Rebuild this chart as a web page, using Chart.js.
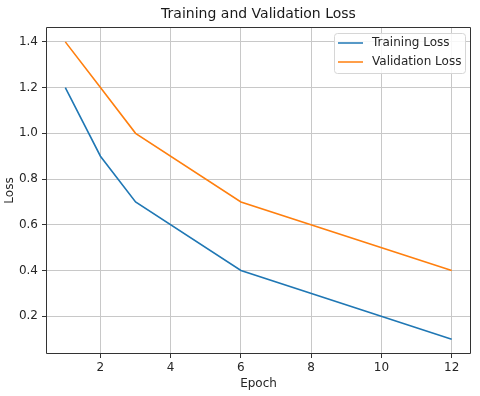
<!DOCTYPE html>
<html>
<head>
<meta charset="utf-8">
<script src="https://cdn.jsdelivr.net/npm/chart.js@4.4.0/dist/chart.umd.min.js"></script>
<style>
  html, body { margin: 0; padding: 0; background: #fff; }
  #wrap { width: 480px; height: 396px; }
</style>
</head>
<body>
<div id="wrap"><canvas id="lossChart" width="480" height="396"></canvas></div>
<script>
// valores
const epochs = [1, 2, 3, 6, 12];
const trainLoss = [1.2, 0.9, 0.7, 0.4, 0.1];
const valLoss = [1.4, 1.2, 1.0, 0.7, 0.4];
const xTicks = [2, 4, 6, 8, 10, 12];
const yTicks = [0.2, 0.4, 0.6, 0.8, 1.0, 1.2, 1.4];
const titulo = 'Training and Validation Loss';

const fonte = 'DejaVu Sans';
const corGrade = '#c8c8c8';
const corEixo = '#333333';

function pontos(valores) {
    return epochs.map((e, i) => ({ x: e, y: valores[i] }));
}

// título centrado na área do gráfico, moldura e legenda no canto
const molduraELegenda = {
    id: 'molduraELegenda',
    afterDraw(chart) {
        const { ctx, chartArea: a } = chart;
        ctx.save();

        ctx.fillStyle = '#1a1a1a';
        ctx.font = '14px ' + fonte;
        ctx.textAlign = 'center';
        ctx.textBaseline = 'middle';
        ctx.fillText(titulo, (a.left + a.right) / 2, 14);

        const l = Math.round(a.left) + 0.5, t = Math.round(a.top) + 0.5;
        const r = Math.round(a.right) - 0.5, b = Math.round(a.bottom) - 0.5;
        ctx.strokeStyle = corEixo;
        ctx.lineWidth = 1;
        ctx.beginPath();
        ctx.moveTo(l, t); ctx.lineTo(r, t); ctx.lineTo(r, b); ctx.lineTo(l, b); ctx.closePath();
        ctx.stroke();

        // legenda
        const bx = 334, by = 33, bw = 131, bh = 40;
        ctx.fillStyle = 'rgba(255,255,255,0.85)';
        ctx.strokeStyle = '#d6d6d6';
        ctx.beginPath();
        ctx.roundRect(bx + 0.5, by + 0.5, bw, bh, 3);
        ctx.fill();
        ctx.stroke();

        ctx.font = '12px ' + fonte;
        ctx.textAlign = 'left';
        chart.data.datasets.forEach((ds, i) => {
            const y = by + 10 + i * 19;
            ctx.strokeStyle = ds.borderColor;
            ctx.lineWidth = 1.5;
            ctx.beginPath();
            ctx.moveTo(bx + 4, y);
            ctx.lineTo(bx + 29, y);
            ctx.stroke();
            ctx.fillStyle = '#262626';
            ctx.fillText(ds.label, bx + 38, y);
        });
        ctx.restore();
    }
};

const ctx = document.getElementById('lossChart').getContext('2d');
new Chart(ctx, {
    type: 'line',
    data: {
        datasets: [
            {
                label: 'Training Loss',
                data: pontos(trainLoss),
                borderColor: '#1f77b4',
                borderWidth: 1.6,
                pointRadius: 0,
                tension: 0
            },
            {
                label: 'Validation Loss',
                data: pontos(valLoss),
                borderColor: '#ff7f0e',
                borderWidth: 1.6,
                pointRadius: 0,
                tension: 0
            }
        ]
    },
    options: {
        responsive: false,
        animation: false,
        events: [],
        layout: { padding: { left: 0, right: 9, top: 27, bottom: 0 } },
        plugins: {
            legend: { display: false },
            tooltip: { enabled: false },
            title: { display: false }
        },
        scales: {
            x: {
                type: 'linear',
                min: 0.45,
                max: 12.55,
                afterBuildTicks: s => { s.ticks = xTicks.map(v => ({ value: v })); },
                afterFit: s => { s.height = 42; },
                grid: { color: corGrade, lineWidth: 1, tickLength: 4, tickColor: corEixo },
                border: { display: false },
                ticks: { color: '#262626', padding: 3, font: { family: fonte, size: 12 }, maxRotation: 0 },
                title: {
                    display: true,
                    text: 'Epoch',
                    color: '#262626',
                    font: { family: fonte, size: 12 },
                    padding: { top: 0, bottom: 5 }
                }
            },
            y: {
                min: 0.035,
                max: 1.465,
                afterBuildTicks: s => { s.ticks = yTicks.map(v => ({ value: v })); },
                afterFit: s => { s.width = 46; },
                grid: { color: corGrade, lineWidth: 1, tickLength: 4, tickColor: corEixo },
                border: { display: false },
                ticks: {
                    color: '#262626',
                    padding: 4,
                    font: { family: fonte, size: 12 },
                    callback: v => v.toFixed(1)
                },
                title: {
                    display: true,
                    text: 'Loss',
                    color: '#262626',
                    font: { family: fonte, size: 12 },
                    padding: { top: 3, bottom: 0 }
                }
            }
        }
    },
    plugins: [molduraELegenda]
});
</script>
</body>
</html>
